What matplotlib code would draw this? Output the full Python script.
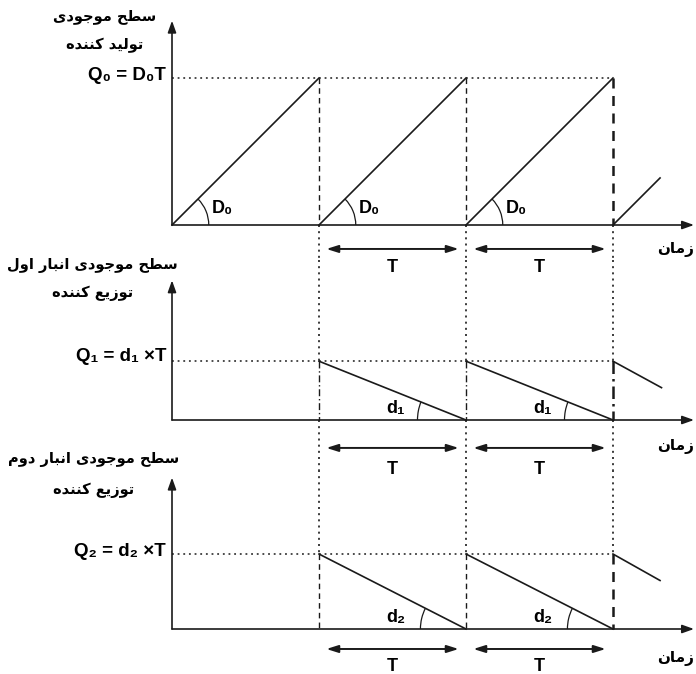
import matplotlib
matplotlib.use("Agg")
import matplotlib.pyplot as plt
from matplotlib.patches import Arc
import math

# ---- data (time in cycles of length T, stock in the same units) ----
cycle_edges = [0, 1, 2, 3]
q_levels = [1.0, 0.40, 0.51]                 # Q0, Q1, Q2
partial_end = [(3.32, 0.32), (3.33, 0.22), (3.32, 0.33)]  # cut-off segment after the 3rd edge
title_lines = [["سطح موجودی", "تولید کننده"],
               ["سطح موجودی انبار اول", "توزیع کننده"],
               ["سطح موجودی انبار دوم", "توزیع کننده"]]
q_labels = ['Q\u2080 = D\u2080T', 'Q\u2081 = d\u2081 \u00d7T', 'Q\u2082 = d\u2082 \u00d7T']
rate_labels = ['D\u2080', 'd\u2081', 'd\u2082']
time_label = "زمان"
period_label = "T"

# ---- tiny persian shaper (matplotlib has no RTL / joining) ----
FORMS = {  # isolated, final, initial, medial
    'ا': ('\uFE8D', '\uFE8E', None, None), 'ب': ('\uFE8F', '\uFE90', '\uFE91', '\uFE92'),
    'ت': ('\uFE95', '\uFE96', '\uFE97', '\uFE98'), 'ج': ('\uFE9D', '\uFE9E', '\uFE9F', '\uFEA0'),
    'ح': ('\uFEA1', '\uFEA2', '\uFEA3', '\uFEA4'), 'د': ('\uFEA9', '\uFEAA', None, None),
    'ر': ('\uFEAD', '\uFEAE', None, None), 'ز': ('\uFEAF', '\uFEB0', None, None),
    'س': ('\uFEB1', '\uFEB2', '\uFEB3', '\uFEB4'), 'ط': ('\uFEC1', '\uFEC2', '\uFEC3', '\uFEC4'),
    'ع': ('\uFEC9', '\uFECA', '\uFECB', '\uFECC'), 'ل': ('\uFEDD', '\uFEDE', '\uFEDF', '\uFEE0'),
    'م': ('\uFEE1', '\uFEE2', '\uFEE3', '\uFEE4'), 'ن': ('\uFEE5', '\uFEE6', '\uFEE7', '\uFEE8'),
    'ه': ('\uFEE9', '\uFEEA', '\uFEEB', '\uFEEC'), 'و': ('\uFEED', '\uFEEE', None, None),
    'ک': ('\uFB8E', '\uFB8F', '\uFB90', '\uFB91'), 'ی': ('\uFBFC', '\uFBFD', '\uFBFE', '\uFBFF'),
}

def shape(text):
    out = []
    for i, ch in enumerate(text):
        if ch not in FORMS:
            out.append(ch)
            continue
        prev = text[i-1] if i > 0 else ''
        nxt = text[i+1] if i+1 < len(text) else ''
        join_prev = prev in FORMS and FORMS[prev][2] is not None
        join_next = FORMS[ch][2] is not None and nxt in FORMS
        iso, fin, ini, med = FORMS[ch]
        if join_prev and join_next:
            out.append(med)
        elif join_prev:
            out.append(fin)
        elif join_next:
            out.append(ini)
        else:
            out.append(iso)
    return ''.join(out)[::-1]

# ---- layout: pixel bands of each panel, baseline row, origin column ----
W, H = 696, 674
unit = 147.0
x0 = 172
bands = [(0, 260, 225), (260, 470, 420), (470, 674, 629)]
axis_tops = [1.39, 0.95, 1.03]
title_pos = [(-0.46, 1.415, 1.224), (-0.54, 1.054, 0.864), (-0.53, 1.15, 0.946)]
arrow_y = [-0.163, -0.19, -0.136]
t_y = [-0.286, -0.34, -0.252]
time_y = [-0.17, -0.18, -0.20]
arc_r = [0.25, 0.33, 0.31]
rate_pos = [(0.34, 0.115), (-0.48, 0.08), (-0.48, 0.08)]
qlab_y = [0.02, 0.03, 0.02]

fig = plt.figure(figsize=(W/100, H/100), dpi=100)
ink = '#1a1a1a'
fa = ['DejaVu Sans']
fl = ['Liberation Sans', 'DejaVu Sans']

for p, (top, bot, base) in enumerate(bands):
    ax = fig.add_axes([0, 1 - bot/H, 1, (bot - top)/H])
    ax.set_xlim(-x0/unit, (W - x0)/unit)
    ax.set_ylim(-(bot - base)/unit, (base - top)/unit)
    ax.axis('off')
    ylo, yhi = ax.get_ylim()
    q = q_levels[p]

    # axes with arrow heads
    ax.annotate('', xy=(0, axis_tops[p]), xytext=(0, 0),
                arrowprops=dict(arrowstyle='-|>,head_length=0.7,head_width=0.25', lw=1.2, color=ink, shrinkA=0, shrinkB=0))
    ax.annotate('', xy=((W - 2 - x0)/unit, 0), xytext=(0, 0),
                arrowprops=dict(arrowstyle='-|>,head_length=0.7,head_width=0.25', lw=1.2, color=ink, shrinkA=0, shrinkB=0))

    # Q level dotted line
    ax.plot([0, cycle_edges[-1]], [q, q], ls=(0, (1.2, 2.5)), color=ink, lw=1.1)

    # vertical cycle boundaries
    for e in cycle_edges[1:]:
        wlw = 1.8 if e == cycle_edges[-1] else 1.0
        if p == 0:
            ax.plot([e, e], [q, 0], ls=(0, (4, 3)), color=ink, lw=wlw)
            ax.plot([e, e], [0, ylo], ls=(0, (1.2, 2.5)), color=ink, lw=1.2)
        elif p == 1:
            ax.plot([e, e], [yhi, q], ls=(0, (1.2, 2.5)), color=ink, lw=1.2)
            ax.plot([e, e], [q, 0], ls=(0, (5, 2, 1, 2)), color=ink, lw=wlw)
            ax.plot([e, e], [0, ylo], ls=(0, (1.2, 2.5)), color=ink, lw=1.2)
        else:
            ax.plot([e, e], [yhi, q], ls=(0, (1.2, 2.5)), color=ink, lw=1.2)
            ax.plot([e, e], [q, 0], ls=(0, (4, 3)), color=ink, lw=wlw)

    # stock curves
    if p == 0:
        for a, b in zip(cycle_edges[:-1], cycle_edges[1:]):
            ax.plot([a, b], [0, q], color=ink, lw=1.2)
            ax.add_patch(Arc((a, 0), 2*arc_r[p], 2*arc_r[p], theta1=0, theta2=math.degrees(math.atan(q)), color=ink, lw=0.9))
            ax.text(a + rate_pos[p][0], rate_pos[p][1], rate_labels[p], fontsize=13, fontweight='bold', family=fl,
                    ha='center', va='center')
    else:
        for a, b in zip(cycle_edges[1:-1], cycle_edges[2:]):
            ax.plot([a, b], [q, 0], color=ink, lw=1.2)
            ax.add_patch(Arc((b, 0), 2*arc_r[p], 2*arc_r[p], theta1=180 - math.degrees(math.atan(q)), theta2=180, color=ink, lw=0.9))
            ax.text(b + rate_pos[p][0], rate_pos[p][1], rate_labels[p], fontsize=13, fontweight='bold', family=fl,
                    ha='center', va='center')
    sx = cycle_edges[-1]
    ax.plot([sx, partial_end[p][0]], [0 if p == 0 else q, partial_end[p][1]], color=ink, lw=1.2)

    # T span arrows
    for a, b in zip(cycle_edges[1:-1], cycle_edges[2:]):
        ax.annotate('', xy=(b - 0.05, arrow_y[p]), xytext=(a + 0.05, arrow_y[p]),
                    arrowprops=dict(arrowstyle='<|-|>,head_length=0.7,head_width=0.22', lw=1.4, color=ink, shrinkA=0, shrinkB=0),
                    annotation_clip=False)
        ax.text((a + b)/2, t_y[p], period_label, fontsize=13, fontweight='bold', family=fl,
                ha='center', va='center', clip_on=False)

    # labels
    ax.text(-0.04, q + qlab_y[p], q_labels[p], fontsize=13.5, fontweight='bold', family=fl, ha='right', va='center')
    ax.text((W - 2 - x0)/unit, time_y[p], shape(time_label), fontsize=11, fontweight='bold', family=fa,
            ha='right', va='center', clip_on=False)
    tx, y1, y2 = title_pos[p]
    ax.text(tx, y1, shape(title_lines[p][0]), fontsize=10.5, fontweight='bold', family=fa, ha='center', va='center', clip_on=False)
    ax.text(tx, y2, shape(title_lines[p][1]), fontsize=10.5, fontweight='bold', family=fa, ha='center', va='center', clip_on=False)

fig.savefig('out.png', dpi=100)
